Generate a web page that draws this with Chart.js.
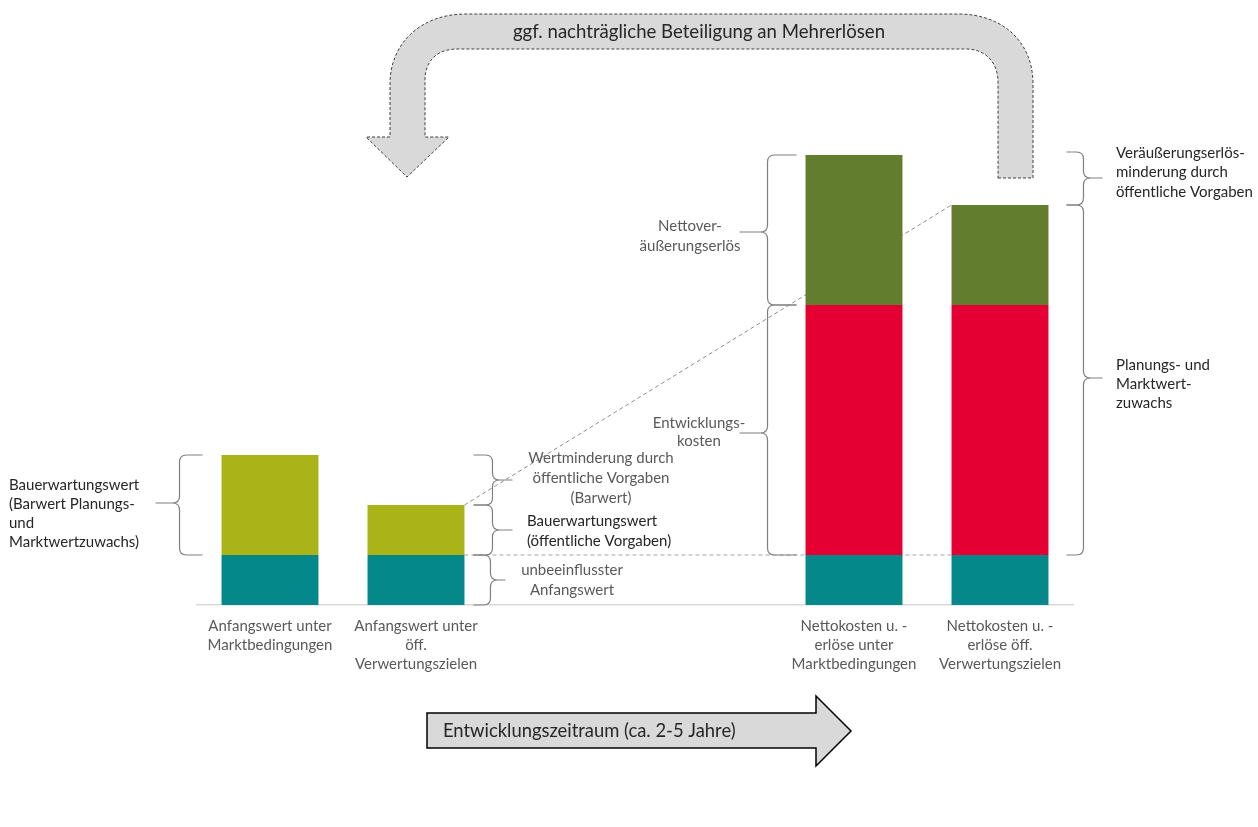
<!DOCTYPE html>
<html>
<head>
<meta charset="utf-8">
<script src="https://cdn.jsdelivr.net/npm/chart.js@4.4.1/dist/chart.umd.min.js"></script>
<style>
  html, body { margin: 0; padding: 0; background: #fff; }
  canvas { display: block; }
</style>
</head>
<body>
<canvas id="chart" width="1258" height="827"></canvas>
<script>
// categories (two empty slots keep the time gap between the pairs)
const categories = [
    ['Anfangswert unter', 'Marktbedingungen'],
    ['Anfangswert unter', 'öff.', 'Verwertungszielen'],
    '', '',
    ['Nettokosten u. -', 'erlöse unter', 'Marktbedingungen'],
    ['Nettokosten u. -', 'erlöse öff.', 'Verwertungszielen']
];

// stacked values (units of value)
const anfangswert = [1, 1, null, null, 1, 1];
const bauerwartungswert = [2, 1, null, null, null, null];
const entwicklungskosten = [null, null, null, null, 5, 5];
const nettoerloes = [null, null, null, null, 3, 2];

const colors = ['#05888A', '#AAB418', '#E50033', '#637D2E'];

const FONT = 'Lato, "Open Sans", sans-serif';
const DARK = '#262626';
const GREY = '#595959';

function brace(ctx, xTip, xSpine, xPoint, y0, y1, yMid) {
    const dir = xTip > xSpine ? 1 : -1;
    const r = Math.min(7, (y1 - y0) / 5);
    ctx.beginPath();
    ctx.moveTo(xTip, y0);
    ctx.lineTo(xSpine + dir * r, y0);
    ctx.quadraticCurveTo(xSpine, y0, xSpine, y0 + r);
    ctx.lineTo(xSpine, yMid - r);
    ctx.quadraticCurveTo(xSpine, yMid, xSpine - dir * r, yMid);
    ctx.lineTo(xPoint, yMid);
    ctx.moveTo(xSpine - dir * r, yMid);
    ctx.quadraticCurveTo(xSpine, yMid, xSpine, yMid + r);
    ctx.lineTo(xSpine, y1 - r);
    ctx.quadraticCurveTo(xSpine, y1, xSpine + dir * r, y1);
    ctx.lineTo(xTip, y1);
    ctx.stroke();
}

function lines(ctx, arr, x, y, lh, align, color, size) {
    ctx.font = size + 'px ' + FONT;
    ctx.fillStyle = color;
    ctx.textAlign = align;
    ctx.textBaseline = 'middle';
    arr.forEach((t, i) => ctx.fillText(t, x, y + i * lh));
}

const guideLines = {
    id: 'guideLines',
    beforeDatasetsDraw(chart) {
        const { ctx } = chart;
        const b2 = chart.getDatasetMeta(1).data[1];
        const t6 = chart.getDatasetMeta(3).data[5];
        const base6 = chart.getDatasetMeta(0).data[5];
        const r2 = b2.x + b2.width / 2;
        const l6 = t6.x - t6.width / 2;
        ctx.save();
        ctx.strokeStyle = '#8c8c8c';
        ctx.lineWidth = 1;
        ctx.setLineDash([4, 3]);
        ctx.beginPath();
        ctx.moveTo(r2, b2.y);
        ctx.lineTo(l6, t6.y);
        ctx.stroke();
        ctx.strokeStyle = '#a6a6a6';
        ctx.beginPath();
        ctx.moveTo(r2, b2.base);
        ctx.lineTo(l6, base6.y);
        ctx.stroke();
        ctx.restore();
    }
};

const annotations = {
    id: 'annotations',
    afterDraw(chart) {
        const { ctx, scales: { y } } = chart;
        const bar = (ds, i) => chart.getDatasetMeta(ds).data[i];
        ctx.save();

        // big U-turn arrow on top
        ctx.fillStyle = '#d9d9d9';
        ctx.strokeStyle = '#404040';
        ctx.lineWidth = 1;
        ctx.setLineDash([3, 2]);
        ctx.beginPath();
        ctx.moveTo(998, 178);
        ctx.lineTo(1033, 178);
        ctx.lineTo(1033, 84);
        ctx.bezierCurveTo(1033, 42, 1003, 14, 958, 14);
        ctx.lineTo(466, 14);
        ctx.bezierCurveTo(420, 14, 390, 44, 390, 84);
        ctx.lineTo(390, 137);
        ctx.lineTo(366, 137);
        ctx.lineTo(407, 177);
        ctx.lineTo(449, 137);
        ctx.lineTo(425, 137);
        ctx.lineTo(425, 80);
        ctx.bezierCurveTo(425, 61, 437, 49, 457, 49);
        ctx.lineTo(966, 49);
        ctx.bezierCurveTo(985, 49, 998, 62, 998, 82);
        ctx.closePath();
        ctx.fill();
        ctx.stroke();
        ctx.setLineDash([]);
        lines(ctx, ['ggf. nachträgliche Beteiligung an Mehrerlösen'], 699, 32, 0, 'center', DARK, 18.6);

        // time arrow at the bottom
        ctx.fillStyle = '#d9d9d9';
        ctx.strokeStyle = '#000';
        ctx.lineWidth = 1.5;
        ctx.beginPath();
        ctx.moveTo(427, 713);
        ctx.lineTo(816, 713);
        ctx.lineTo(816, 696);
        ctx.lineTo(851, 731);
        ctx.lineTo(816, 766);
        ctx.lineTo(816, 748);
        ctx.lineTo(427, 748);
        ctx.closePath();
        ctx.fill();
        ctx.stroke();
        lines(ctx, ['Entwicklungszeitraum (ca. 2-5 Jahre)'], 443, 731, 0, 'left', DARK, 18.4);

        // braces
        ctx.strokeStyle = '#7f7f7f';
        ctx.lineWidth = 1.2;

        const b1 = bar(1, 0);
        const l1 = b1.x - b1.width / 2;
        brace(ctx, l1 - 19, l1 - 42, l1 - 66, b1.y, b1.base, (b1.y + b1.base) / 2 - 2);
        lines(ctx, ['Bauerwartungswert', '(Barwert Planungs-', 'und', 'Marktwertzuwachs)'], 9, 485, 19, 'left', DARK, 15);

        const b2 = bar(1, 1);
        const a2 = bar(0, 1);
        const r2 = b2.x + b2.width / 2;
        const top1 = y.getPixelForValue(anfangswert[0] + bauerwartungswert[0]);
        brace(ctx, r2 + 9, r2 + 28, r2 + 48, top1, b2.y, (top1 + b2.y) / 2);
        brace(ctx, r2 + 9, r2 + 28, r2 + 48, b2.y, b2.base, (b2.y + b2.base) / 2);
        brace(ctx, r2 + 9, r2 + 26, r2 + 41, a2.y, a2.base, (a2.y + a2.base) / 2);
        lines(ctx, ['Wertminderung durch', 'öffentliche Vorgaben', '(Barwert)'], 601, 458, 20, 'center', GREY, 15);
        lines(ctx, ['Bauerwartungswert', '(öffentliche Vorgaben)'], 527, 521, 20, 'left', DARK, 15);
        lines(ctx, ['unbeeinflusster', 'Anfangswert'], 572, 570, 20, 'center', GREY, 15);

        const g5 = bar(3, 4);
        const k5 = bar(2, 4);
        const l5 = g5.x - g5.width / 2;
        brace(ctx, l5 - 9, l5 - 38, l5 - 66, g5.y, g5.base, (g5.y + g5.base) / 2 + 2);
        brace(ctx, l5 - 9, l5 - 38, l5 - 66, k5.y, k5.base, (k5.y + k5.base) / 2 + 3);
        lines(ctx, ['Nettover-', 'äußerungserlös'], 690, 226, 20, 'center', GREY, 15);
        lines(ctx, ['Entwicklungs-', 'kosten'], 699, 423, 18, 'center', GREY, 15);

        const g6 = bar(3, 5);
        const k6 = bar(2, 5);
        const r6 = g6.x + g6.width / 2;
        brace(ctx, r6 + 18, r6 + 35, r6 + 54, g5.y - 3, g6.y, (g5.y + g6.y) / 2 - 2);
        brace(ctx, r6 + 18, r6 + 35, r6 + 54, g6.y, k6.base, (g6.y + k6.base) / 2 - 2);
        lines(ctx, ['Veräußerungserlös-', 'minderung durch', 'öffentliche Vorgaben'], 1116, 153, 19.5, 'left', DARK, 15);
        lines(ctx, ['Planungs- und', 'Marktwert-', 'zuwachs'], 1116, 365, 19, 'left', DARK, 15);

        ctx.restore();
    }
};

const datasetLabels = ['Anfangswert', 'Bauerwartungswert', 'Entwicklungskosten', 'Nettoveräußerungserlös'];
const series = [anfangswert, bauerwartungswert, entwicklungskosten, nettoerloes];

new Chart(document.getElementById('chart').getContext('2d'), {
    type: 'bar',
    data: {
        labels: categories,
        datasets: series.map((data, i) => ({
            label: datasetLabels[i],
            data: data,
            backgroundColor: colors[i],
            borderWidth: 0,
            categoryPercentage: 1,
            barPercentage: 0.664
        }))
    },
    options: {
        responsive: false,
        animation: false,
        events: [],
        layout: { padding: { left: 197, right: 185, top: 5, bottom: 142 } },
        scales: {
            x: {
                stacked: true,
                grid: { display: false, drawTicks: false },
                border: { display: true, color: '#d9d9d9', width: 1.5 },
                ticks: {
                    color: GREY,
                    padding: 12,
                    maxRotation: 0,
                    autoSkip: false,
                    font: { family: FONT, size: 15, lineHeight: 1.27 }
                },
                afterFit(scale) { scale.height = 80; }
            },
            y: {
                stacked: true,
                display: false,
                min: 0,
                max: 12
            }
        },
        plugins: {
            legend: { display: false },
            tooltip: { enabled: false }
        }
    },
    plugins: [guideLines, annotations]
});
</script>
</body>
</html>
